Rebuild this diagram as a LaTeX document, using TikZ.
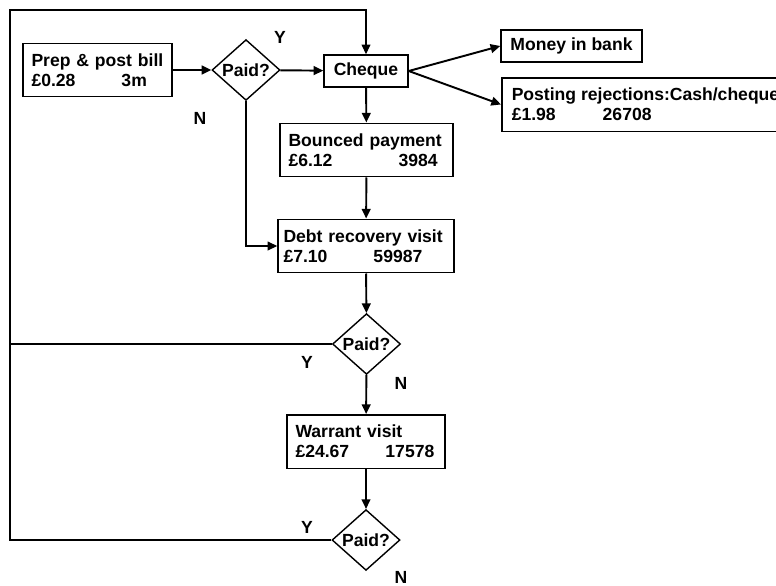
\documentclass[tikz,border=0pt]{standalone}
\usepackage{fontspec}
\setmainfont{Liberation Sans}
\usetikzlibrary{shapes.geometric,arrows.meta}
\begin{document}
\begin{tikzpicture}[x=0.02cm,y=-0.02cm,
      font=\bfseries\fontsize{10}{11.5}\selectfont,
      box/.style={draw, rectangle, line width=0.85pt, inner xsep=0.17cm,
        align=left, minimum height=1.07cm},
      smallbox/.style={draw, rectangle, line width=0.85pt, minimum height=0.64cm},
      ask/.style={draw, diamond, line width=0.8pt, inner sep=0pt,
        minimum width=1.36cm, minimum height=1.12cm},
      pfeil/.style={line width=1.1pt, -{Triangle[length=5.5pt,width=5pt]}},
      loop/.style={line width=0.7pt}]
    \useasboundingbox (0,0) rectangle (776,585);
    \node[box,text width=2.64cm] at (97.5,70) (bill)
      {Prep \& post bill\\\makebox[1.8cm][l]{£0.28}3m};
    \node[ask] at (246,70) (paid1) {Paid?};
    \node[smallbox,minimum width=1.68cm] at (366,71) (cheque) {Cheque};
    \node[smallbox,minimum width=2.82cm] at (571.5,46) (bank) {Money in bank};
    \node[box,anchor=west,inner xsep=0.2cm] at (501,104.5) (reject)
      {Posting rejections:Cash/cheque\\\makebox[1.82cm][l]{£1.98}26708};
    \node[box,text width=3.12cm] at (366.5,150) (bounced)
      {Bounced payment\\\makebox[2.2cm][l]{£6.12}3984};
    \node[box,text width=3.3cm,inner xsep=0.11cm] at (366,246) (debt)
      {Debt recovery visit\\\makebox[1.8cm][l]{£7.10}59987};
    \node[ask] at (366.5,344) (paid2) {Paid?};
    \node[box,text width=2.82cm] at (366,441.5) (warrant)
      {Warrant visit\\\makebox[1.8cm][l]{£24.67}17578};
    \node[ask] at (366,540) (paid3) {Paid?};
    \coordinate (tl) at (10,10);
    \coordinate (bl) at (10,540);
    % main flow
    \draw[pfeil] (bill)--(paid1);
    \draw[pfeil] (paid1)--(cheque);
    \draw[pfeil] (cheque.east)--(bank.west);
    \draw[pfeil] (cheque.east)--(reject.west);
    \draw[pfeil] (cheque)--(bounced);
    \draw[pfeil] (bounced)--(debt);
    \draw[pfeil] (debt)--(paid2);
    \draw[pfeil] (paid2)--(warrant);
    \draw[pfeil] (warrant)--(paid3);
    \draw[loop,-{Triangle[length=5.5pt,width=5pt]}] (paid1.south) |- (debt.west);
    % back to the cheque
    \draw[loop] (paid2.west) -- (paid2.west -| tl);
    \draw[loop,-{Triangle[length=5.5pt,width=5pt]}] (paid3.west) -- (bl) -- (tl)
      -| (cheque.north);
    \node at (280,37) {Y};
    \node at (200,118) {N};
    \node at (307,362) {Y};
    \node at (401,383) {N};
    \node at (307,527) {Y};
    \node at (401,577) {N};
  \end{tikzpicture}
\end{document}
